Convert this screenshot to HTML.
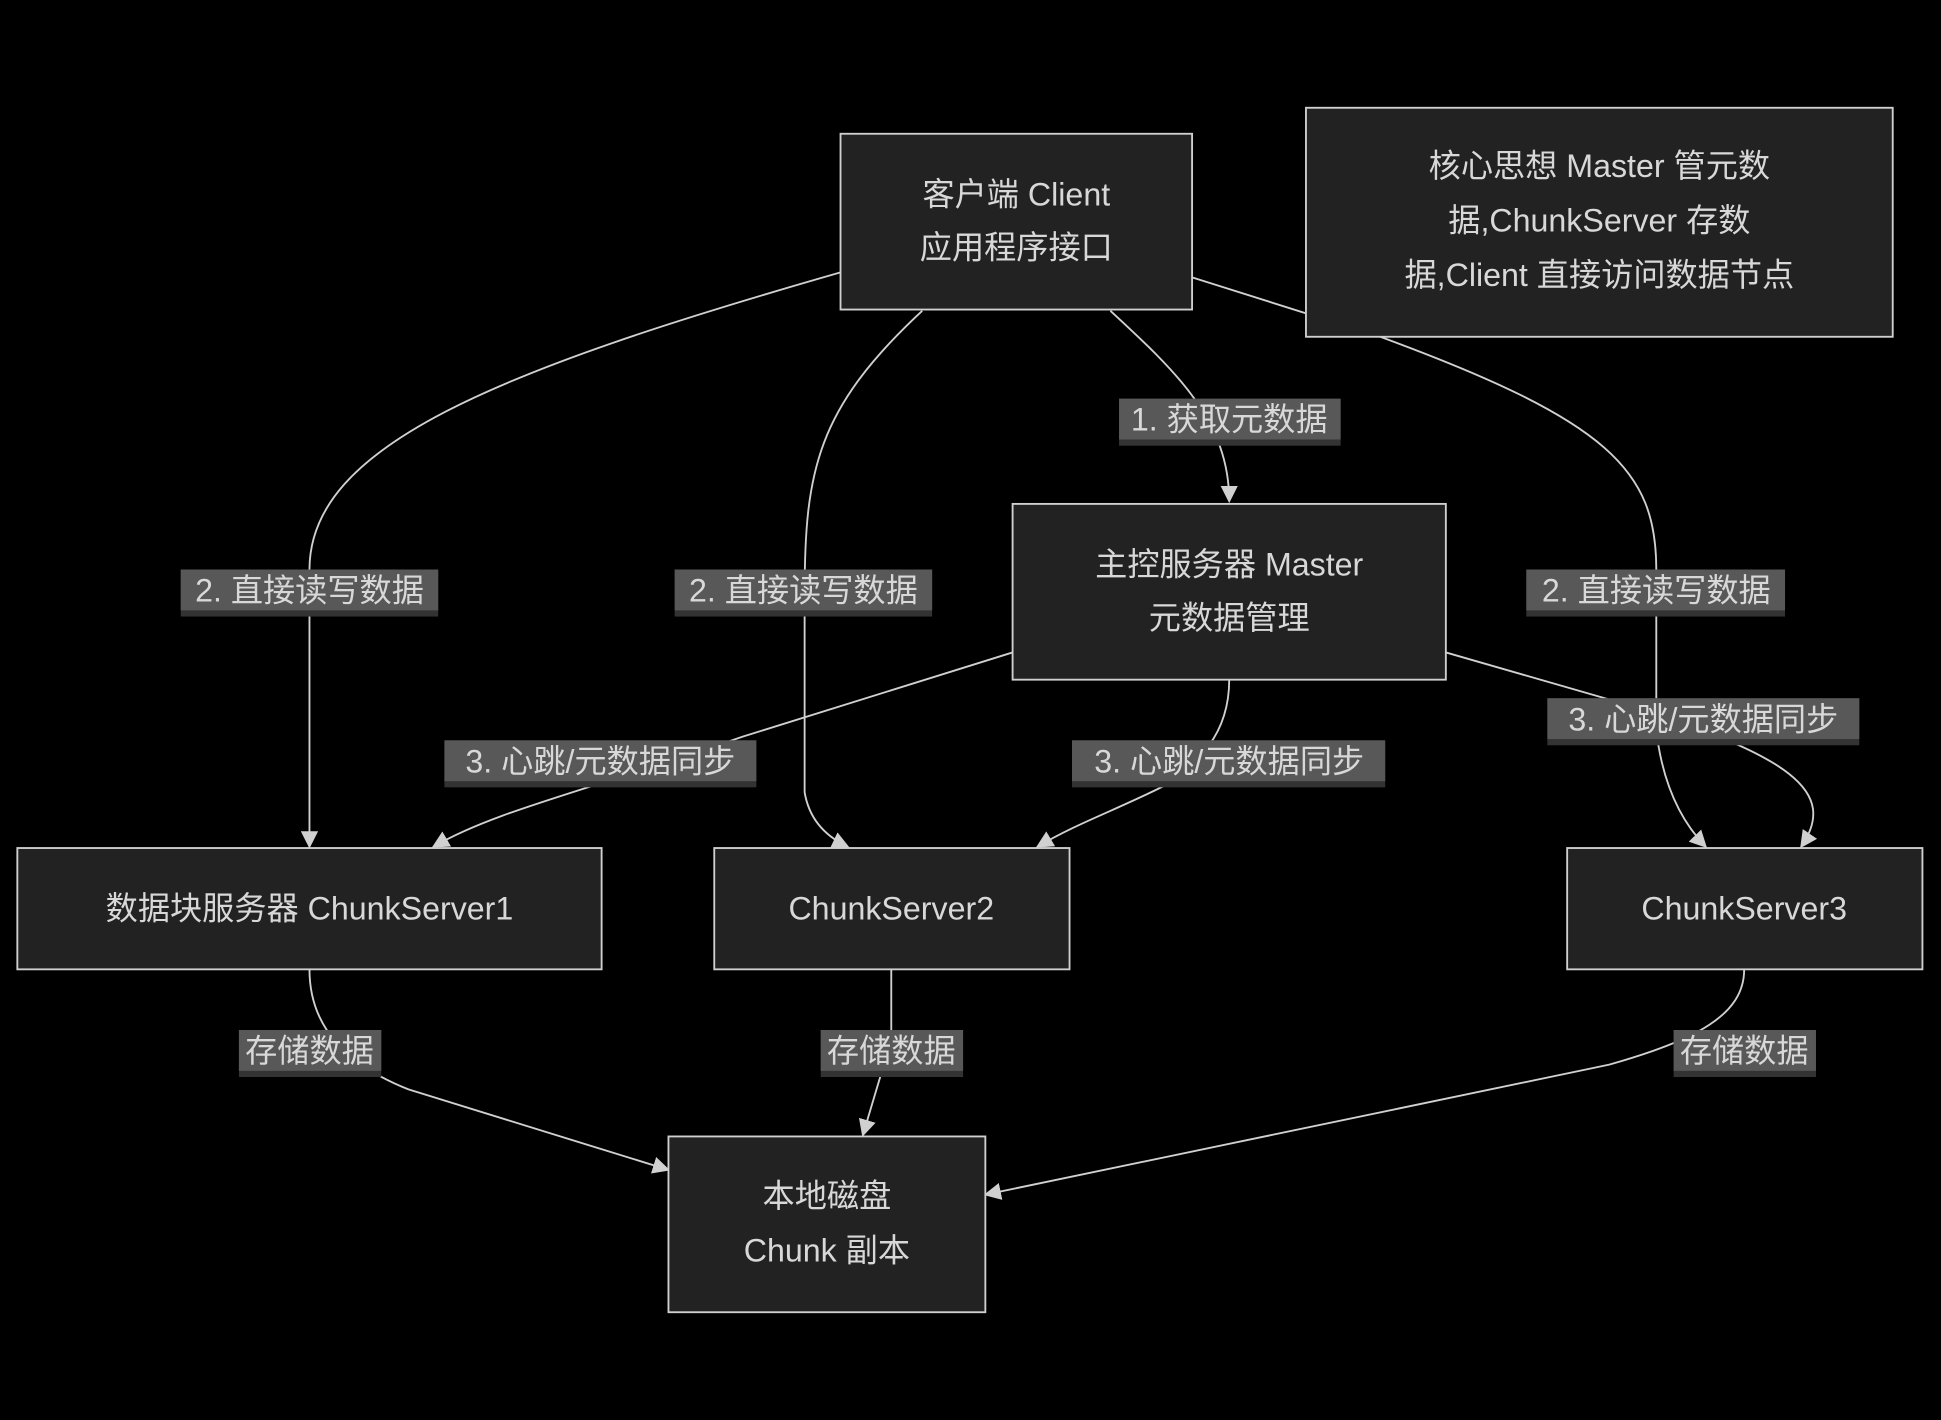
<!DOCTYPE html>
<html><head><meta charset="utf-8"><style>
html,body{margin:0;padding:0;background:#000;}
svg{display:block}
text{font-family:"Liberation Sans","Noto Sans CJK SC",sans-serif;fill:#d8d8d8;text-anchor:middle;dominant-baseline:central;}
</style></head><body>
<svg width="1941" height="1420" viewBox="0 0 1568 1147" xmlns="http://www.w3.org/2000/svg">
<defs><marker id="a" viewBox="0 0 10 10" refX="9" refY="5" markerWidth="9" markerHeight="9" markerUnits="userSpaceOnUse" orient="auto"><path d="M0,0 L10,5 L0,10 z" fill="#d0d0d0"/></marker>
<marker id="b" viewBox="0 0 10 10" refX="9" refY="5" markerWidth="14" markerHeight="14" markerUnits="userSpaceOnUse" orient="auto"><path d="M0,0 L10,5 L0,10 z" fill="#d0d0d0"/></marker></defs>
<rect width="1568" height="1147" fill="#000"/>
<g fill="none" stroke="#d0d0d0" stroke-width="1.5" marker-end="url(#b)">
<path d="M897,251 C950,300 993,340 993,405"/>
<path d="M679,220 C400,300 250,360 250,460 L250,684"/>
<path d="M745,251 C660,330 650,380 650,480 L650,640 Q655,670 685,684"/>
<path d="M963,224 L1115,272 C1300,340 1338,380 1338,460 L1338,590 Q1345,650 1378,684"/>
<path d="M818,527 L600,595 C470,640 400,655 350,684"/>
<path d="M993,549 C993,600 960,620 940,635 C900,655 870,665 838,684"/>
<path d="M1168,527 L1300,565 C1450,610 1485,640 1455,684"/>
<path d="M250,783 C250,830 280,860 330,880 L540,945"/>
<path d="M720,783 L720,840 L697,917"/>
<path d="M1409,783 C1409,820 1370,840 1300,860 L796,965"/>
</g>
<g stroke="#d0d0d0" stroke-width="1.5" fill="#222">
<rect x="679" y="108" width="284" height="142"/>
<rect x="1055" y="87" width="474" height="185"/>
<rect x="818" y="407" width="350" height="142"/>
<rect x="14" y="685" width="472" height="98"/>
<rect x="577" y="685" width="287" height="98"/>
<rect x="1266" y="685" width="287" height="98"/>
<rect x="540" y="918" width="256" height="142"/>
</g>
<g font-size="26">
<text x="821" y="157">客户端 Client</text><text x="821" y="200">应用程序接口</text>
<text x="1292" y="134">核心思想 Master 管元数</text><text x="1292" y="178">据,ChunkServer 存数</text><text x="1292" y="222">据,Client 直接访问数据节点</text>
<text x="993" y="456">主控服务器 Master</text><text x="993" y="499">元数据管理</text>
<text x="250" y="734">数据块服务器 ChunkServer1</text>
<text x="720" y="734">ChunkServer2</text>
<text x="1409" y="734">ChunkServer3</text>
<text x="668" y="966">本地磁盘</text><text x="668" y="1010">Chunk 副本</text>
</g>
<g font-size="26">
<g><rect x="904" y="322" width="179" height="38" fill="#333"/><rect x="904" y="322" width="179" height="33" fill="#585858"/><text x="993" y="339">1. 获取元数据</text></g>
<g><rect x="146" y="460" width="208" height="38" fill="#333"/><rect x="146" y="460" width="208" height="33" fill="#585858"/><text x="250" y="477">2. 直接读写数据</text></g>
<g><rect x="545" y="460" width="208" height="38" fill="#333"/><rect x="545" y="460" width="208" height="33" fill="#585858"/><text x="649" y="477">2. 直接读写数据</text></g>
<g><rect x="1233" y="460" width="209" height="38" fill="#333"/><rect x="1233" y="460" width="209" height="33" fill="#585858"/><text x="1338" y="477">2. 直接读写数据</text></g>
<g><rect x="359" y="598" width="252" height="38" fill="#333"/><rect x="359" y="598" width="252" height="33" fill="#585858"/><text x="485" y="615">3. 心跳/元数据同步</text></g>
<g><rect x="866" y="598" width="253" height="38" fill="#333"/><rect x="866" y="598" width="253" height="33" fill="#585858"/><text x="993" y="615">3. 心跳/元数据同步</text></g>
<g><rect x="1250" y="564" width="252" height="38" fill="#333"/><rect x="1250" y="564" width="252" height="33" fill="#585858"/><text x="1376" y="581">3. 心跳/元数据同步</text></g>
<g><rect x="193" y="832" width="115" height="38" fill="#333"/><rect x="193" y="832" width="115" height="33" fill="#585858"/><text x="250" y="849">存储数据</text></g>
<g><rect x="663" y="832" width="115" height="38" fill="#333"/><rect x="663" y="832" width="115" height="33" fill="#585858"/><text x="720" y="849">存储数据</text></g>
<g><rect x="1352" y="832" width="115" height="38" fill="#333"/><rect x="1352" y="832" width="115" height="33" fill="#585858"/><text x="1409" y="849">存储数据</text></g>
</g>
</svg>
</body></html>
